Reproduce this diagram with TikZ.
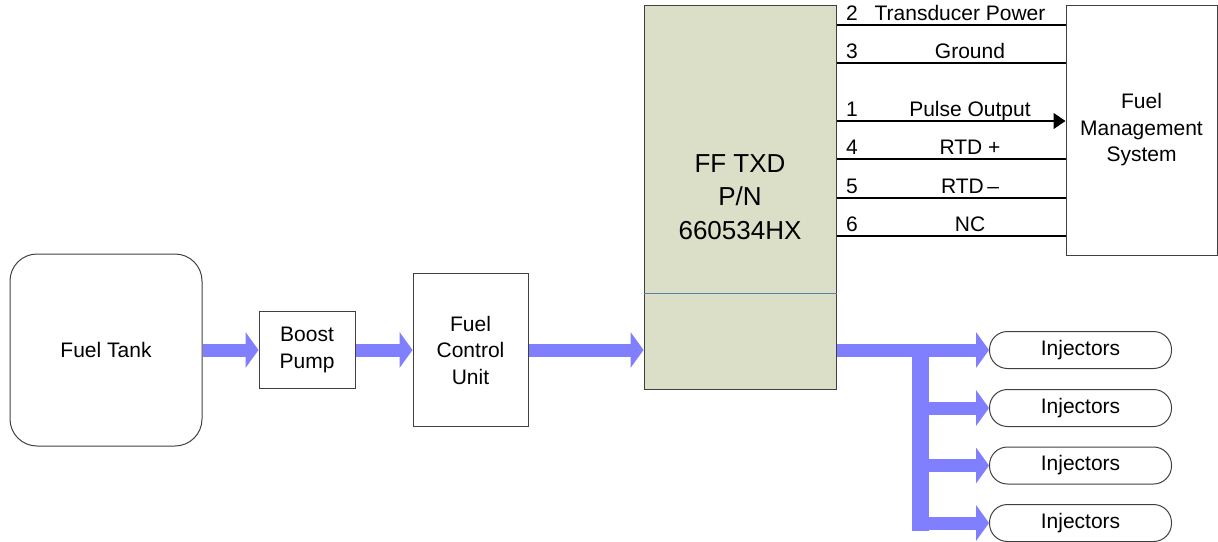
\documentclass[tikz,border=0pt]{standalone}
\usepackage{fontspec}
\setmainfont{Liberation Sans}
\usepackage{tikz}
\usetikzlibrary{positioning, arrows.meta, calc}
\definecolor{txdFill}{HTML}{DCDFC8}
\definecolor{flowBlue}{HTML}{8080FF}
\definecolor{boxEdge}{HTML}{404040}
\definecolor{splitLine}{HTML}{5B7FA6}

\begin{document}
\begin{tikzpicture}[x=1pt, y=-1pt, font=\fontsize{21}{26.5}\selectfont,
  block/.style={draw=boxEdge, line width=1pt, rectangle, inner sep=0pt, align=center},
  injbox/.style={block, rounded corners=18pt, minimum width=182pt, minimum height=37pt},
  flow/.style={draw=flowBlue, line width=13pt, -{Triangle[length=13pt, width=36pt, line width=0pt]}},
  wire/.style={draw=black, line width=1.4pt},
  plainend/.style={},
  pulseend/.style={-{Triangle[length=12pt, width=16pt]}}]
        \useasboundingbox (0,0) rectangle (1218,541);
        \node[block, rounded corners=27pt, minimum width=192pt, minimum height=192pt] (tank) at (106,350) {Fuel Tank};
        \node[block, minimum width=96pt, minimum height=77pt] (boost) at (307,350) {Boost\\Pump};
        \node[block, minimum width=115pt, minimum height=153pt] (fcu) at (470.5,350) {Fuel\\Control\\Unit};
        \node[block, fill=txdFill, minimum width=192pt, minimum height=384pt,
          font=\fontsize{26}{33.5}\selectfont] (txd) at (740,197) {FF TXD\\P/N\\660534HX};
        \node[block, minimum width=151pt, minimum height=250pt] (fms) at (1141.5,130) {Fuel\\Management\\System};
        \draw[splitLine, line width=0.6pt] (txd.west |- 0,293) -- (txd.east |- 0,293);
        \foreach \i/\y in {1/350, 2/408, 3/465.5, 4/523} {
          \node[injbox] (inj\i) at (1080.5,\y) {Injectors};
        }
        \draw[flow] (tank) -- (boost);
        \draw[flow] (boost) -- (fcu);
        \draw[flow] (fcu.east) -- (fcu.east -| txd.west);
        \coordinate (split) at (920.5,350);
        \coordinate (splitend) at (920.5,531);
        \draw[flow] (txd.east |- inj1.west) -- (inj1.west);
        \draw[draw=flowBlue, line width=17pt] (split) -- (splitend);
        \foreach \i in {2,3,4} {
          \draw[flow] (split |- inj\i.west) -- (inj\i.west);
        }
        \foreach \pin/\name/\y/\lx/\tip in {%
          2/Transducer Power/25/960/plainend,
          3/Ground/63/970/plainend,
          1/Pulse Output/121/970/pulseend,
          4/RTD +/159/970/plainend,
          5/RTD\,\textendash/198/970/plainend,
          6/NC/236/970/plainend%
        } {
          \draw[wire, \tip] (txd.east |- 0,\y) -- (fms.west |- 0,\y);
          \node[anchor=base] (pin\pin) at (852,\y-4.5) {\pin};
          \node[anchor=base] (sig\pin) at (\lx,\y-4.5) {\name};
        }
      \end{tikzpicture}
\end{document}
